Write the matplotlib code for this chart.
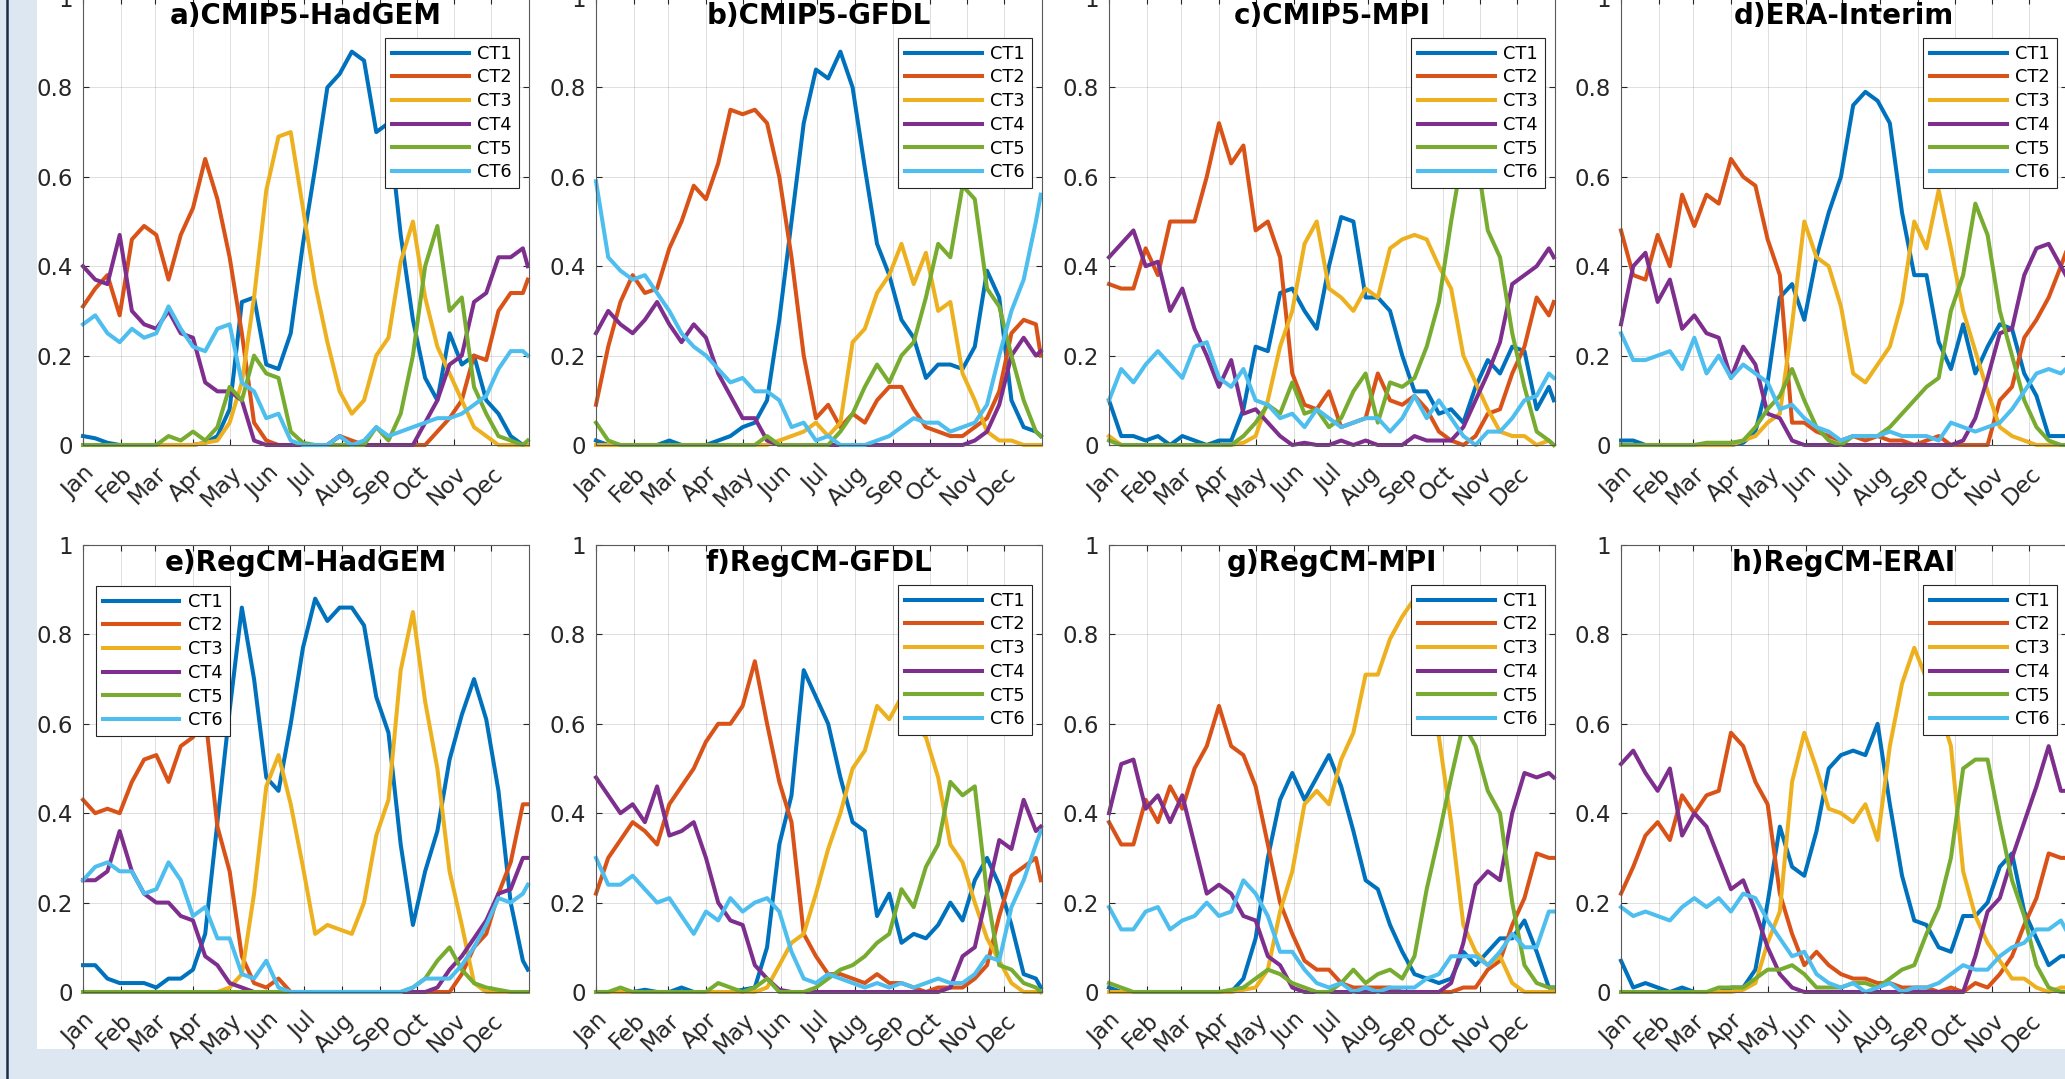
import matplotlib.pyplot as plt
from matplotlib.lines import Line2D
from matplotlib.patches import Rectangle

# sample days (every 10 days + last day of year)
days = list(range(1, 362, 10)) + [365]
month_starts = [1, 32, 60, 91, 121, 152, 182, 213, 244, 274, 305, 335]
month_names = ['Jan', 'Feb', 'Mar', 'Apr', 'May', 'Jun',
               'Jul', 'Aug', 'Sep', 'Oct', 'Nov', 'Dec']
y_ticks = [0, 0.2, 0.4, 0.6, 0.8, 1]
y_labels = ['0', '0.2', '0.4', '0.6', '0.8', '1']
names = ['CT1', 'CT2', 'CT3', 'CT4', 'CT5', 'CT6']
colors = ['#0072BD', '#D95319', '#EDB120', '#7E2F8E', '#77AC30', '#4DBEEE']

# a) CMIP5-HadGEM
a_ct1 = [0.02, 0.015, 0.005, 0, 0, 0, 0, 0, 0, 0, 0.005, 0.02, 0.08, 0.32, 0.33, 0.18, 0.17, 0.25, 0.45,
         0.62, 0.8, 0.83, 0.88, 0.86, 0.7, 0.72, 0.47, 0.28, 0.15, 0.1, 0.25, 0.18, 0.2, 0.1, 0.07, 0.02, 0, 0]
a_ct2 = [0.31, 0.35, 0.38, 0.29, 0.46, 0.49, 0.47, 0.37, 0.47, 0.53, 0.64, 0.55, 0.42, 0.25, 0.05, 0.01, 0, 0, 0,
         0, 0, 0.02, 0.01, 0, 0, 0, 0, 0, 0, 0.03, 0.06, 0.1, 0.2, 0.19, 0.3, 0.34, 0.34, 0.37]
a_ct3 = [0, 0, 0, 0, 0, 0, 0, 0, 0, 0, 0.005, 0.01, 0.05, 0.14, 0.33, 0.57, 0.69, 0.7, 0.53,
         0.36, 0.23, 0.12, 0.07, 0.1, 0.2, 0.24, 0.41, 0.5, 0.33, 0.22, 0.16, 0.1, 0.04, 0.02, 0, 0, 0, 0]
a_ct4 = [0.4, 0.37, 0.36, 0.47, 0.3, 0.27, 0.26, 0.3, 0.25, 0.24, 0.14, 0.12, 0.12, 0.1, 0.01, 0, 0, 0, 0,
         0, 0, 0.02, 0, 0, 0, 0, 0, 0, 0.05, 0.1, 0.18, 0.2, 0.32, 0.34, 0.42, 0.42, 0.44, 0.4]
a_ct5 = [0, 0, 0, 0, 0, 0, 0, 0.02, 0.01, 0.03, 0.01, 0.04, 0.13, 0.1, 0.2, 0.16, 0.15, 0.03, 0.005,
         0, 0, 0, 0, 0, 0.04, 0.01, 0.07, 0.2, 0.4, 0.49, 0.3, 0.33, 0.13, 0.07, 0.02, 0.01, 0, 0.01]
a_ct6 = [0.27, 0.29, 0.25, 0.23, 0.26, 0.24, 0.25, 0.31, 0.26, 0.22, 0.21, 0.26, 0.27, 0.14, 0.12, 0.06, 0.07, 0.01, 0,
         0, 0, 0.02, 0, 0.01, 0.04, 0.02, 0.03, 0.04, 0.05, 0.06, 0.06, 0.07, 0.09, 0.11, 0.17, 0.21, 0.21, 0.2]

# b) CMIP5-GFDL
b_ct1 = [0.01, 0, 0, 0, 0, 0, 0.01, 0, 0, 0, 0.01, 0.02, 0.04, 0.05, 0.1, 0.28, 0.5, 0.72, 0.84,
         0.82, 0.88, 0.8, 0.62, 0.45, 0.38, 0.28, 0.24, 0.15, 0.18, 0.18, 0.17, 0.22, 0.39, 0.33, 0.1, 0.04, 0.03, 0.02]
b_ct2 = [0.09, 0.22, 0.32, 0.38, 0.34, 0.35, 0.44, 0.5, 0.58, 0.55, 0.63, 0.75, 0.74, 0.75, 0.72, 0.6, 0.42, 0.2, 0.06,
         0.09, 0.04, 0.07, 0.05, 0.1, 0.13, 0.13, 0.08, 0.04, 0.03, 0.02, 0.02, 0.04, 0.06, 0.12, 0.25, 0.28, 0.27, 0.2]
b_ct3 = [0, 0, 0, 0, 0, 0, 0, 0, 0, 0, 0, 0, 0, 0, 0, 0.01, 0.02, 0.03, 0.05,
         0.02, 0.05, 0.23, 0.26, 0.34, 0.38, 0.45, 0.36, 0.43, 0.3, 0.32, 0.16, 0.1, 0.03, 0.01, 0.01, 0, 0, 0]
b_ct4 = [0.25, 0.3, 0.27, 0.25, 0.28, 0.32, 0.27, 0.23, 0.27, 0.24, 0.16, 0.11, 0.06, 0.06, 0.01, 0, 0, 0, 0,
         0, 0, 0, 0, 0, 0, 0, 0, 0, 0, 0, 0, 0.01, 0.03, 0.09, 0.2, 0.24, 0.2, 0.21]
b_ct5 = [0.05, 0.01, 0, 0, 0, 0, 0, 0, 0, 0, 0, 0, 0, 0, 0.02, 0, 0, 0, 0,
         0, 0.03, 0.07, 0.13, 0.18, 0.14, 0.2, 0.23, 0.33, 0.45, 0.42, 0.58, 0.55, 0.35, 0.31, 0.2, 0.1, 0.03, 0.02]
b_ct6 = [0.59, 0.42, 0.39, 0.37, 0.38, 0.34, 0.3, 0.25, 0.22, 0.2, 0.17, 0.14, 0.15, 0.12, 0.12, 0.1, 0.04, 0.05, 0.01,
         0.02, 0, 0, 0, 0.01, 0.02, 0.04, 0.06, 0.05, 0.05, 0.03, 0.04, 0.05, 0.09, 0.2, 0.3, 0.37, 0.5, 0.56]

# c) CMIP5-MPI
c_ct1 = [0.1, 0.02, 0.02, 0.01, 0.02, 0, 0.02, 0.01, 0, 0.01, 0.01, 0.08, 0.22, 0.21, 0.34, 0.35, 0.3, 0.26, 0.4,
         0.51, 0.5, 0.33, 0.33, 0.3, 0.2, 0.12, 0.12, 0.07, 0.08, 0.05, 0.13, 0.19, 0.16, 0.22, 0.21, 0.08, 0.13, 0.1]
c_ct2 = [0.36, 0.35, 0.35, 0.44, 0.38, 0.5, 0.5, 0.5, 0.6, 0.72, 0.63, 0.67, 0.48, 0.5, 0.42, 0.16, 0.09, 0.08, 0.12,
         0.04, 0.05, 0.06, 0.16, 0.1, 0.09, 0.11, 0.08, 0.03, 0.01, 0, 0.02, 0.07, 0.08, 0.16, 0.22, 0.33, 0.29, 0.32]
c_ct3 = [0.02, 0, 0, 0, 0, 0, 0, 0, 0, 0, 0, 0.005, 0.02, 0.1, 0.22, 0.3, 0.45, 0.5, 0.35,
         0.33, 0.3, 0.35, 0.33, 0.44, 0.46, 0.47, 0.46, 0.4, 0.35, 0.2, 0.14, 0.08, 0.03, 0.02, 0.02, 0, 0.01, 0]
c_ct4 = [0.42, 0.45, 0.48, 0.4, 0.41, 0.3, 0.35, 0.26, 0.2, 0.13, 0.19, 0.07, 0.08, 0.05, 0.02, 0, 0.005, 0, 0,
         0.01, 0, 0.01, 0, 0, 0, 0.02, 0.01, 0.01, 0.01, 0.04, 0.1, 0.16, 0.23, 0.36, 0.38, 0.4, 0.44, 0.42]
c_ct5 = [0.01, 0, 0, 0, 0, 0, 0, 0, 0, 0, 0, 0.02, 0.05, 0.09, 0.07, 0.14, 0.07, 0.08, 0.04,
         0.06, 0.12, 0.16, 0.05, 0.14, 0.13, 0.15, 0.22, 0.32, 0.5, 0.66, 0.66, 0.48, 0.42, 0.25, 0.13, 0.03, 0.01, 0]
c_ct6 = [0.1, 0.17, 0.14, 0.18, 0.21, 0.18, 0.15, 0.22, 0.23, 0.15, 0.13, 0.17, 0.1, 0.09, 0.06, 0.07, 0.04, 0.08, 0.06,
         0.04, 0.05, 0.06, 0.06, 0.03, 0.06, 0.11, 0.06, 0.1, 0.06, 0.02, 0, 0.03, 0.03, 0.06, 0.1, 0.11, 0.16, 0.15]

# d) ERA-Interim
d_ct1 = [0.01, 0.01, 0, 0, 0, 0, 0, 0, 0, 0, 0.005, 0.03, 0.14, 0.33, 0.36, 0.28, 0.42, 0.52, 0.6,
         0.76, 0.79, 0.77, 0.72, 0.52, 0.38, 0.38, 0.23, 0.17, 0.27, 0.16, 0.22, 0.27, 0.26, 0.16, 0.11, 0.02, 0.02, 0.02]
d_ct2 = [0.48, 0.38, 0.37, 0.47, 0.4, 0.56, 0.49, 0.56, 0.54, 0.64, 0.6, 0.58, 0.46, 0.38, 0.05, 0.05, 0.03, 0.02, 0.01,
         0.02, 0.01, 0.02, 0.01, 0.01, 0, 0.01, 0.02, 0, 0, 0, 0, 0.1, 0.13, 0.24, 0.28, 0.33, 0.4, 0.43]
d_ct3 = [0, 0, 0, 0, 0, 0, 0, 0, 0, 0, 0.01, 0.02, 0.05, 0.07, 0.27, 0.5, 0.42, 0.4, 0.31,
         0.16, 0.14, 0.18, 0.22, 0.32, 0.5, 0.44, 0.57, 0.44, 0.3, 0.21, 0.12, 0.04, 0.02, 0.01, 0, 0, 0, 0]
d_ct4 = [0.27, 0.4, 0.43, 0.32, 0.37, 0.26, 0.29, 0.25, 0.24, 0.15, 0.22, 0.18, 0.07, 0.06, 0.01, 0, 0, 0, 0,
         0, 0, 0, 0, 0, 0, 0, 0, 0, 0.01, 0.06, 0.15, 0.25, 0.26, 0.38, 0.44, 0.45, 0.4, 0.38]
d_ct5 = [0, 0, 0, 0, 0, 0, 0, 0.005, 0.005, 0.005, 0.01, 0.04, 0.08, 0.11, 0.17, 0.1, 0.04, 0.01, 0,
         0.02, 0.02, 0.02, 0.04, 0.07, 0.1, 0.13, 0.15, 0.3, 0.38, 0.54, 0.47, 0.3, 0.2, 0.1, 0.04, 0.01, 0, 0]
d_ct6 = [0.25, 0.19, 0.19, 0.2, 0.21, 0.17, 0.24, 0.16, 0.2, 0.15, 0.18, 0.16, 0.14, 0.08, 0.09, 0.06, 0.04, 0.03, 0.01,
         0.02, 0.02, 0.02, 0.03, 0.02, 0.02, 0.02, 0.01, 0.05, 0.04, 0.03, 0.04, 0.05, 0.08, 0.12, 0.16, 0.17, 0.16, 0.17]

# e) RegCM-HadGEM
e_ct1 = [0.06, 0.06, 0.03, 0.02, 0.02, 0.02, 0.01, 0.03, 0.03, 0.05, 0.13, 0.38, 0.63, 0.86, 0.7, 0.48, 0.45, 0.6, 0.77,
         0.88, 0.83, 0.86, 0.86, 0.82, 0.66, 0.58, 0.33, 0.15, 0.27, 0.36, 0.52, 0.62, 0.7, 0.61, 0.45, 0.2, 0.07, 0.05]
e_ct2 = [0.43, 0.4, 0.41, 0.4, 0.47, 0.52, 0.53, 0.47, 0.55, 0.57, 0.62, 0.37, 0.27, 0.08, 0.02, 0.01, 0.03, 0, 0,
         0, 0, 0, 0, 0, 0, 0, 0, 0, 0, 0, 0, 0.04, 0.1, 0.13, 0.22, 0.29, 0.42, 0.42]
e_ct3 = [0, 0, 0, 0, 0, 0, 0, 0, 0, 0, 0, 0, 0.01, 0.04, 0.22, 0.46, 0.53, 0.42, 0.28,
         0.13, 0.15, 0.14, 0.13, 0.2, 0.35, 0.43, 0.72, 0.85, 0.65, 0.5, 0.27, 0.15, 0.02, 0, 0, 0, 0, 0]
e_ct4 = [0.25, 0.25, 0.27, 0.36, 0.27, 0.22, 0.2, 0.2, 0.17, 0.16, 0.08, 0.06, 0.02, 0.01, 0, 0, 0, 0, 0,
         0, 0, 0, 0, 0, 0, 0, 0, 0, 0, 0.01, 0.05, 0.08, 0.12, 0.16, 0.22, 0.23, 0.3, 0.3]
e_ct5 = [0, 0, 0, 0, 0, 0, 0, 0, 0, 0, 0, 0, 0, 0, 0, 0, 0, 0, 0,
         0, 0, 0, 0, 0, 0, 0, 0, 0.01, 0.03, 0.07, 0.1, 0.05, 0.02, 0.01, 0.005, 0, 0, 0]
e_ct6 = [0.25, 0.28, 0.29, 0.27, 0.27, 0.22, 0.23, 0.29, 0.25, 0.17, 0.19, 0.12, 0.12, 0.04, 0.03, 0.07, 0.01, 0, 0,
         0, 0, 0, 0, 0, 0, 0, 0, 0.01, 0.03, 0.03, 0.03, 0.06, 0.1, 0.15, 0.21, 0.2, 0.22, 0.24]

# f) RegCM-GFDL
f_ct1 = [0, 0, 0, 0, 0.005, 0, 0, 0.01, 0, 0, 0, 0, 0.005, 0.01, 0.1, 0.33, 0.44, 0.72, 0.66,
         0.6, 0.48, 0.38, 0.36, 0.17, 0.22, 0.11, 0.13, 0.12, 0.15, 0.2, 0.16, 0.25, 0.3, 0.24, 0.15, 0.04, 0.03, 0.01]
f_ct2 = [0.22, 0.3, 0.34, 0.38, 0.36, 0.33, 0.42, 0.46, 0.5, 0.56, 0.6, 0.6, 0.64, 0.74, 0.6, 0.47, 0.38, 0.13, 0.08,
         0.04, 0.04, 0.03, 0.02, 0.04, 0.02, 0.02, 0.01, 0, 0.01, 0.01, 0.01, 0.03, 0.06, 0.17, 0.26, 0.28, 0.3, 0.25]
f_ct3 = [0, 0, 0, 0, 0, 0, 0, 0, 0, 0, 0, 0, 0, 0, 0.01, 0.06, 0.11, 0.13, 0.22,
         0.32, 0.4, 0.5, 0.54, 0.64, 0.61, 0.66, 0.6, 0.57, 0.48, 0.33, 0.29, 0.2, 0.12, 0.07, 0.02, 0, 0, 0]
f_ct4 = [0.48, 0.44, 0.4, 0.42, 0.38, 0.46, 0.35, 0.36, 0.38, 0.3, 0.2, 0.16, 0.15, 0.06, 0.03, 0.005, 0, 0, 0,
         0, 0, 0, 0, 0, 0, 0, 0, 0, 0, 0.01, 0.08, 0.1, 0.22, 0.34, 0.32, 0.43, 0.36, 0.37]
f_ct5 = [0, 0, 0.01, 0, 0, 0, 0, 0, 0, 0, 0.02, 0.01, 0, 0.01, 0.03, 0, 0, 0, 0.01,
         0.03, 0.05, 0.06, 0.08, 0.11, 0.13, 0.23, 0.19, 0.28, 0.33, 0.47, 0.44, 0.46, 0.22, 0.06, 0.05, 0.02, 0.01, 0]
f_ct6 = [0.3, 0.24, 0.24, 0.26, 0.23, 0.2, 0.21, 0.17, 0.13, 0.18, 0.16, 0.21, 0.18, 0.2, 0.21, 0.18, 0.09, 0.03, 0.02,
         0.04, 0.03, 0.02, 0.01, 0.02, 0.01, 0.02, 0.01, 0.02, 0.03, 0.02, 0.02, 0.04, 0.08, 0.07, 0.19, 0.25, 0.33, 0.36]

# g) RegCM-MPI
g_ct1 = [0.01, 0, 0, 0, 0, 0, 0, 0, 0, 0, 0, 0.03, 0.12, 0.3, 0.43, 0.49, 0.43, 0.48, 0.53,
         0.46, 0.36, 0.25, 0.23, 0.15, 0.09, 0.04, 0.03, 0.02, 0.03, 0.09, 0.06, 0.09, 0.12, 0.12, 0.16, 0.09, 0.01, 0.01]
g_ct2 = [0.38, 0.33, 0.33, 0.43, 0.38, 0.46, 0.41, 0.5, 0.55, 0.64, 0.55, 0.53, 0.46, 0.33, 0.2, 0.13, 0.07, 0.05, 0.05,
         0.02, 0.01, 0.01, 0.01, 0.01, 0, 0, 0, 0, 0, 0.01, 0.01, 0.05, 0.07, 0.15, 0.21, 0.31, 0.3, 0.3]
g_ct3 = [0, 0, 0, 0, 0, 0, 0, 0, 0, 0, 0, 0.005, 0.01, 0.05, 0.18, 0.27, 0.42, 0.45, 0.42,
         0.52, 0.58, 0.71, 0.71, 0.79, 0.84, 0.88, 0.72, 0.57, 0.38, 0.15, 0.09, 0.06, 0.08, 0.02, 0, 0, 0, 0]
g_ct4 = [0.4, 0.51, 0.52, 0.41, 0.44, 0.38, 0.44, 0.33, 0.22, 0.24, 0.22, 0.17, 0.16, 0.08, 0.06, 0.01, 0, 0, 0,
         0, 0, 0, 0, 0, 0, 0, 0, 0, 0.02, 0.11, 0.24, 0.27, 0.25, 0.4, 0.49, 0.48, 0.49, 0.48]
g_ct5 = [0.02, 0.01, 0, 0, 0, 0, 0, 0, 0, 0, 0.005, 0.01, 0.03, 0.05, 0.04, 0.02, 0.01, 0, 0,
         0.02, 0.05, 0.02, 0.04, 0.05, 0.03, 0.08, 0.23, 0.35, 0.48, 0.6, 0.55, 0.45, 0.4, 0.2, 0.06, 0.02, 0.01, 0.01]
g_ct6 = [0.19, 0.14, 0.14, 0.18, 0.19, 0.14, 0.16, 0.17, 0.2, 0.17, 0.18, 0.25, 0.22, 0.17, 0.09, 0.09, 0.05, 0.02, 0.01,
         0.02, 0, 0.01, 0, 0.01, 0.01, 0.01, 0.03, 0.04, 0.08, 0.08, 0.08, 0.06, 0.09, 0.13, 0.1, 0.1, 0.18, 0.18]

# h) RegCM-ERAI
h_ct1 = [0.07, 0.01, 0.02, 0.01, 0, 0.01, 0, 0, 0, 0.01, 0.01, 0.05, 0.2, 0.37, 0.28, 0.26, 0.36, 0.5, 0.53,
         0.54, 0.53, 0.6, 0.42, 0.26, 0.16, 0.15, 0.1, 0.09, 0.17, 0.17, 0.2, 0.28, 0.31, 0.18, 0.12, 0.06, 0.08, 0.08]
h_ct2 = [0.22, 0.28, 0.35, 0.38, 0.34, 0.44, 0.4, 0.44, 0.45, 0.58, 0.55, 0.47, 0.42, 0.22, 0.13, 0.06, 0.09, 0.06, 0.04,
         0.03, 0.03, 0.02, 0.02, 0.01, 0.01, 0.01, 0, 0.01, 0, 0.02, 0.01, 0.04, 0.08, 0.15, 0.21, 0.31, 0.3, 0.3]
h_ct3 = [0, 0, 0, 0, 0, 0, 0, 0, 0, 0, 0.005, 0.02, 0.11, 0.18, 0.47, 0.58, 0.5, 0.41, 0.4,
         0.38, 0.42, 0.34, 0.55, 0.69, 0.77, 0.7, 0.64, 0.55, 0.27, 0.17, 0.11, 0.07, 0.03, 0.03, 0.01, 0, 0.01, 0.01]
h_ct4 = [0.51, 0.54, 0.49, 0.45, 0.5, 0.35, 0.4, 0.37, 0.3, 0.23, 0.25, 0.18, 0.1, 0.04, 0.01, 0, 0, 0, 0,
         0, 0, 0, 0, 0, 0, 0, 0, 0, 0, 0.08, 0.18, 0.21, 0.3, 0.38, 0.46, 0.55, 0.45, 0.45]
h_ct5 = [0, 0, 0, 0, 0, 0, 0, 0, 0.01, 0.01, 0.01, 0.03, 0.05, 0.05, 0.06, 0.04, 0.01, 0.01, 0.01,
         0.02, 0.02, 0.01, 0.03, 0.05, 0.06, 0.13, 0.19, 0.3, 0.5, 0.52, 0.52, 0.38, 0.25, 0.17, 0.06, 0.01, 0, 0]
h_ct6 = [0.19, 0.17, 0.18, 0.17, 0.16, 0.19, 0.21, 0.19, 0.21, 0.18, 0.22, 0.21, 0.16, 0.12, 0.08, 0.09, 0.04, 0.02, 0.01,
         0.02, 0, 0.01, 0.02, 0, 0.01, 0.01, 0.02, 0.04, 0.06, 0.05, 0.05, 0.08, 0.1, 0.11, 0.14, 0.14, 0.16, 0.14]

panels = [
    ('a)CMIP5-HadGEM', [a_ct1, a_ct2, a_ct3, a_ct4, a_ct5, a_ct6], 'upper right'),
    ('b)CMIP5-GFDL', [b_ct1, b_ct2, b_ct3, b_ct4, b_ct5, b_ct6], 'upper right'),
    ('c)CMIP5-MPI', [c_ct1, c_ct2, c_ct3, c_ct4, c_ct5, c_ct6], 'upper right'),
    ('d)ERA-Interim', [d_ct1, d_ct2, d_ct3, d_ct4, d_ct5, d_ct6], 'upper right'),
    ('e)RegCM-HadGEM', [e_ct1, e_ct2, e_ct3, e_ct4, e_ct5, e_ct6], 'upper left'),
    ('f)RegCM-GFDL', [f_ct1, f_ct2, f_ct3, f_ct4, f_ct5, f_ct6], 'upper right'),
    ('g)RegCM-MPI', [g_ct1, g_ct2, g_ct3, g_ct4, g_ct5, g_ct6], 'upper right'),
    ('h)RegCM-ERAI', [h_ct1, h_ct2, h_ct3, h_ct4, h_ct5, h_ct6], 'upper right'),
]

W, H = 2065, 1079
fig = plt.figure(figsize=(W / 100, H / 100), dpi=100)
fig.patch.set_facecolor('#dde7f2')
# white page area + dark left rule
fig.add_artist(Rectangle((37 / W, 1 - 1049 / H), 1, 1049 / H, transform=fig.transFigure,
                         facecolor='white', edgecolor='none', zorder=-10))
fig.add_artist(Line2D([7 / W, 7 / W], [0, 1], transform=fig.transFigure,
                      color='#1c2b4a', linewidth=1.8, zorder=-5))

lefts = [83, 596, 1109, 1621]
tops = [-2, 545]
aw, ah = 446, 447
ink = '#262626'

for i, (title, series, loc) in enumerate(panels):
    r, c = divmod(i, 4)
    ax = fig.add_axes([lefts[c] / W, (H - tops[r] - ah) / H, aw / W, ah / H])
    for vals, name, col in zip(series, names, colors):
        ax.plot(days, vals, color=col, linewidth=2.9, label=name,
                solid_joinstyle='round', clip_on=False)
    ax.set_xlim(1, 366)
    ax.set_ylim(0, 1)
    ax.set_xticks(month_starts)
    ax.set_xticklabels(month_names, rotation=45, ha='right', va='top', rotation_mode='anchor')
    ax.set_yticks(y_ticks)
    ax.set_yticklabels(y_labels)
    ax.tick_params(direction='in', top=True, right=True, length=4, width=0.8,
                   color=ink, labelsize=16.5, labelcolor=ink)
    ax.tick_params(axis='x', pad=12)
    ax.tick_params(axis='y', pad=7)
    ax.grid(True, color=ink, alpha=0.15, linewidth=0.7)
    ax.set_axisbelow(True)
    for sp in ax.spines.values():
        sp.set_color('#5a5a5a')
        sp.set_linewidth(0.8)
    ax.text(0.5, 1 - 4 / ah, title, transform=ax.transAxes, ha='center', va='top',
            fontsize=20, fontweight='bold', color='black', zorder=6)
    if loc == 'upper right':
        anchor = (1 - 10 / aw, 1 - 40 / ah)
    else:
        anchor = (13 / aw, 1 - 41 / ah)
    leg = ax.legend(loc=loc, bbox_to_anchor=anchor, borderaxespad=0, fontsize=12.8,
                    handlelength=4.3, handletextpad=0.5, labelspacing=0.32, borderpad=0.38,
                    fancybox=False, framealpha=1, edgecolor=ink)
    leg.get_frame().set_linewidth(0.8)
    leg.set_zorder(10)

fig.savefig('out.png', dpi=100, facecolor=fig.get_facecolor())
